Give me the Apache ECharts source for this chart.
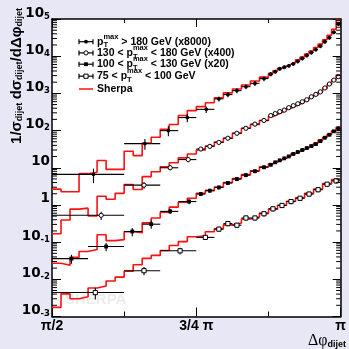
<!DOCTYPE html>
<html>
<head>
<meta charset="utf-8">
<script src="https://cdn.jsdelivr.net/npm/echarts/dist/echarts.min.js"></script>
<style>
html,body{margin:0;padding:0;background:#e7e7f5;}
#c{width:349px;height:349px;}
</style>
</head>
<body>
<div id="c"></div>
<script>
// ---------- DATA (x positions / bin edges in units of pi/64) ----------
const xTickLabels = ['π/2', '3/4 π', 'π'];
const yTickLabels = ['{b|10}{s|-3}', '{b|10}{s|-2}', '{b|10}{s|-1}', '{b|1}', '{b|10}', '{b|10}{s|2}', '{b|10}{s|3}', '{b|10}{s|4}', '{b|10}{s|5}'];

// Sherpa histogram bin edges
const edgesFine = [32,33,34,35,36,37,38,39,40,41,42,43,44,45,46,47,48,49,50,51,52,53,54,55,56,56.5,57,57.5,58,58.5,59,59.5,60,60.5,61,61.5,62,62.5,63,63.5,64];
const edgesD = [32,33,34,35,36,37,38,39,40,41,42,43,44,45,46,47,48,49,50,51,52,53,54,55,56,57,58,59,60,61,62,63,64];

// Sherpa values (already scaled as plotted)
const sherpaA = [2.66,2.27,2.27,6.93,7.60,15.6,9.02,9.02,27.7,21.2,45.9,66.2,108,146,254,344,439,560,760,1030,1316,1679,2144,2735,3492,4068,4737,5352,6046,6830,7958,9553,11470,13775,17050,21110,27780,36560,52700,94100];
const sherpaB = [0.168,0.394,0.772,0.820,0.503,1.705,1.42,2.05,3.55,2.61,5.78,7.84,10.6,13.6,18.4,23.5,30.0,38.3,48.9,62.3,84.6,115,146,187,238.5,269.5,304.3,343.9,400.6,452.4,511.3,577.6,672.9,783.4,912.6,1096,1357,1731,2279,3091];
const sherpaC = [0.02695,0.02385,0.0389,0.0560,0.0633,0.158,0.1096,0.1165,0.1897,0.1786,0.3286,0.4457,0.6427,0.872,1.183,1.51,2.048,2.46,3.043,4.005,5.113,6.525,8.328,10.63,12.76,14.42,16.29,18.40,20.79,24.22,27.36,30.91,34.91,39.45,45.95,55.17,66.25,79.57,98.49,121.9];
const sherpaD = [0.001763,0.004068,0.002998,0.003387,0.005865,0.006626,0.008988,0.01147,0.01654,0.02459,0.03655,0.04389,0.05954,0.08077,0.1031,0.1398,0.1487,0.1897,0.2279,0.2907,0.3286,0.4194,0.4737,0.6045,0.7716,0.985,1.257,1.556,2.048,2.695,3.77,4.81];

// Data: pT > 180 GeV (x8000)
const aX  = [36.6,42.3,44.9,47.0,49.1,50.5,51.5,52.5,53.5,54.5,55.5,56.25,56.75,57.25,57.75,58.25,58.75,59.25,59.75,60.25,60.75,61.25,61.75,62.25,62.75,63.25,63.75];
const aLo = [32,40,44,46,48,50,51,52,53,54,55,56,56.5,57,57.5,58,58.5,59,59.5,60,60.5,61,61.5,62,62.5,63,63.5];
const aHi = [40,44,46,48,50,51,52,53,54,55,56,56.5,57,57.5,58,58.5,59,59.5,60,60.5,61,61.5,62,62.5,63,63.5,64];
const aVal = [6.65,44.6,99.7,224,372,715,929,1186,1515,1862,2497,3286,3826,4596,5035,5517,6233,7261,8718,10470,12570,15100,18690,24590,31390,43890,73730];
const aErr = [0.42,0.32,0.3,0.25,0.2,0.15,0.15,0.15,0.15,0.15,0.15,0.12,0.12,0.12,0.12,0.12,0.12,0.12,0.12,0.12,0.12,0.12,0.12,0.12,0.12,0.12,0.12];

// Data: 130 < pT < 180 GeV (x400)
const bX  = [37.45,42.2,45.1,47.1,48.5,49.5,50.5,51.5,52.5,53.5,54.5,55.5,56.25,56.75,57.25,57.75,58.25,58.75,59.25,59.75,60.25,60.75,61.25,61.75,62.25,62.75,63.25,63.75];
const bLo = [32,40,44,46,48,49,50,51,52,53,54,55,56,56.5,57,57.5,58,58.5,59,59.5,60,60.5,61,61.5,62,62.5,63,63.5];
const bHi = [40,44,46,48,49,50,51,52,53,54,55,56,56.5,57,57.5,58,58.5,59,59.5,60,60.5,61,61.5,62,62.5,63,63.5,64];
const bVal = [0.526,3.40,10.0,16.6,31.9,37.6,48.0,62.3,84.6,115,149,187,253.5,286.4,323.6,354.5,413,466.6,527.2,595.6,672.9,807.7,940.9,1096,1399,1785,2279,2820];
const bErr = [0.25,0.2,0.15,0.15,0.12,0.12,0.12,0.12,0.12,0.12,0.12,0.12,0.1,0.1,0.1,0.1,0.1,0.1,0.1,0.1,0.1,0.1,0.1,0.1,0.1,0.1,0.1,0.1];

// Data: 100 < pT < 130 GeV (x20)
const cX  = [34.16,38.0,40.9,43.0,45.1,47.2,48.5,49.5,50.5,51.5,52.5,53.5,54.5,55.5,56.25,56.75,57.25,57.75,58.25,58.75,59.25,59.75,60.25,60.75,61.25,61.75,62.25,62.75,63.25,63.75];
const cLo = [32,36,40,42,44,46,48,49,50,51,52,53,54,55,56,56.5,57,57.5,58,58.5,59,59.5,60,60.5,61,61.5,62,62.5,63,63.5];
const cHi = [36,40,42,44,46,48,49,50,51,52,53,54,55,56,56.5,57,57.5,58,58.5,59,59.5,60,60.5,61,61.5,62,62.5,63,63.5,64];
const cVal = [0.0359,0.076,0.1932,0.3034,0.671,1.234,1.962,2.414,2.953,3.886,4.959,6.329,8.077,10.31,12.01,13.99,15.80,17.85,20.17,23.49,26.53,29.98,33.87,38.27,43.23,51.90,64.27,77.17,95.52,114.7];
const cErr = [0.27,0.25,0.25,0.25,0.15,0.15,0.12,0.12,0.12,0.12,0.12,0.12,0.12,0.12,0.1,0.1,0.1,0.1,0.1,0.1,0.1,0.1,0.1,0.1,0.1,0.1,0.1,0.1,0.1,0.1];

// Data: 75 < pT < 100 GeV
const dX  = [36.8,42.2,46.2,49.0,50.5,51.5,52.5,53.5,54.5,55.5,56.5,57.5,58.5,59.5,60.5,61.5,62.5,63.5];
const dLo = [32,40,44,48,50,51,52,53,54,55,56,57,58,59,60,61,62,63];
const dHi = [40,44,48,50,51,52,53,54,55,56,57,58,59,60,61,62,63,64];
const dVal = [0.0044,0.01705,0.05845,0.134,0.2237,0.3148,0.2855,0.4457,0.4457,0.5793,0.786,0.967,1.234,1.51,1.962,2.567,3.61,4.44];
const dErr = [0.35,0.25,0.2,0.15,0.15,0.15,0.15,0.15,0.15,0.15,0.15,0.15,0.15,0.15,0.15,0.15,0.15,0.15];

// legend text pieces
const legendRows = [
  {pre: '',       post: ' > 180 GeV (x8000)', mk: 'fc'},
  {pre: '130 < ', post: ' < 180 GeV (x400)',  mk: 'oc'},
  {pre: '100 < ', post: ' < 130 GeV (x20)',   mk: 'fs'},
  {pre: '75 < ',  post: ' < 100 GeV',         mk: 'os'}
];
const legendSherpa = 'Sherpa';

// y minor tick multipliers / decades
const yMinorMult = [2,3,4,5,6,7,8,9];
const yDecades = [-3,-2,-1,0,1,2,3,4];

// ---------- BUILD ----------
const PI64 = Math.PI / 64;
const RED = '#ff1010';

function histData(edges, vals) {
  const d = vals.map((v, i) => [edges[i] * PI64, v]);
  d.push([edges[edges.length - 1] * PI64, vals[vals.length - 1]]);
  return d;
}
function pointData(x, lo, hi, v, e) {
  return v.map((val, i) => [x[i] * PI64, val, lo[i] * PI64, hi[i] * PI64, val * (1 - e[i]), val * (1 + e[i])]);
}
function marker(kind, x, y) {
  if (kind === 'fc') return {type: 'circle', shape: {cx: x, cy: y, r: 1.9}, style: {fill: '#000'}};
  if (kind === 'oc') return {type: 'circle', shape: {cx: x, cy: y, r: 2.1}, style: {fill: '#fff', stroke: '#000', lineWidth: 1}};
  if (kind === 'fs') return {type: 'rect', shape: {x: x - 1.9, y: y - 1.9, width: 3.8, height: 3.8}, style: {fill: '#000'}};
  return {type: 'rect', shape: {x: x - 2.1, y: y - 2.1, width: 4.2, height: 4.2}, style: {fill: '#fff', stroke: '#000', lineWidth: 1}};
}
function lineSeries(name, edges, vals) {
  return {name: name, type: 'line', step: 'end', data: histData(edges, vals), symbol: 'none',
    lineStyle: {color: RED, width: 1.6}, z: 2, silent: true, animation: false};
}
function pointSeries(name, x, lo, hi, v, e, mk) {
  return {
    name: name, type: 'custom', z: 3, silent: true, animation: false, clip: false,
    encode: {x: 0, y: 1},
    data: pointData(x, lo, hi, v, e),
    renderItem: function (params, api) {
      const p = api.coord([api.value(0), api.value(1)]);
      const pl = api.coord([api.value(2), api.value(1)]);
      const ph = api.coord([api.value(3), api.value(1)]);
      const e1 = api.coord([api.value(0), api.value(4)]);
      const e2 = api.coord([api.value(0), api.value(5)]);
      const st = {stroke: '#000', lineWidth: 1.1};
      return {type: 'group', children: [
        {type: 'line', shape: {x1: pl[0], y1: p[1], x2: ph[0], y2: p[1]}, style: st},
        {type: 'line', shape: {x1: p[0], y1: e1[1], x2: p[0], y2: e2[1]}, style: st},
        marker(mk, p[0], p[1])
      ]};
    }
  };
}

const yMinor = [];
yDecades.forEach(d => yMinorMult.forEach(m => yMinor.push([Math.PI / 2, m * Math.pow(10, d)])));

// ---------- legend graphic ----------
const ctx = document.createElement('canvas').getContext('2d');
const LF = 10.5, SF = 7.5;
function tw(t, s) { ctx.font = 'bold ' + s + 'px "Liberation Sans"'; return ctx.measureText(t).width; }
function txt(t, x, y, s, extra) {
  return Object.assign({type: 'text', x: x, y: y, z: 10, silent: true,
    style: {text: t, fill: '#000', fontFamily: 'Liberation Sans', fontWeight: 'bold', fontSize: s,
      align: 'left', verticalAlign: 'middle'}}, extra || {});
}
const rowY = [41.7, 52.9, 64.2, 76.2];
const sherpaY = 89;
const graphics = [];
legendRows.forEach((r, i) => {
  const y = rowY[i];
  const ls = {stroke: '#000', lineWidth: 1.2};
  graphics.push({type: 'line', z: 10, shape: {x1: 79, y1: y, x2: 93, y2: y}, style: ls});
  graphics.push({type: 'line', z: 10, shape: {x1: 79, y1: y - 2.5, x2: 79, y2: y + 2.5}, style: ls});
  graphics.push({type: 'line', z: 10, shape: {x1: 93, y1: y - 2.5, x2: 93, y2: y + 2.5}, style: ls});
  graphics.push(Object.assign(marker(r.mk, 86, y), {z: 11}));
  let x = 97;
  if (r.pre) { graphics.push(txt(r.pre, x, y, LF)); x += tw(r.pre, LF); }
  graphics.push(txt('p', x, y, LF)); x += tw('p', LF);
  graphics.push(txt('max', x, y - 4.8, SF));
  graphics.push(txt('T', x, y + 3.6, SF));
  x += tw('max', SF);
  graphics.push(txt(r.post, x, y, LF));
});
graphics.push({type: 'line', z: 10, shape: {x1: 79, y1: sherpaY, x2: 93, y2: sherpaY}, style: {stroke: RED, lineWidth: 1.5}});
graphics.push(txt(legendSherpa, 97, sherpaY, LF));

// watermark
graphics.push({type: 'text', x: 65, y: 300, z: 1, silent: true,
  style: {text: 'SHERPA', fill: '#ececec', fontFamily: 'Liberation Sans', fontWeight: 'bold', fontSize: 15,
    align: 'left', verticalAlign: 'middle'}});

// y axis title
graphics.push({type: 'text', x: 17, y: 76, rotation: Math.PI / 2, z: 10, silent: true,
  style: {text: '{n|1/σ}{s|dijet} {n|dσ}{s|dijet}{n|/dΔφ}{s|dijet}', fill: '#000', align: 'center', verticalAlign: 'middle',
    rich: {
      n: {fontFamily: 'Liberation Sans', fontWeight: 'bold', fontSize: 15, lineHeight: 15, padding: [0, 0, 5, 0], verticalAlign: 'top', fill: '#000', color: '#000'},
      s: {fontFamily: 'Liberation Sans', fontWeight: 'bold', fontSize: 9, lineHeight: 9, verticalAlign: 'bottom', fill: '#000', color: '#000'}
    }}});

// x axis title
graphics.push({type: 'text', x: 346, y: 341, z: 10, silent: true,
  style: {text: '{g|Δφ}{s|dijet}', fill: '#000', align: 'right', verticalAlign: 'middle',
    rich: {
      g: {fontFamily: 'Liberation Serif', fontSize: 16, lineHeight: 16, padding: [0, 0, 4, 0], verticalAlign: 'top', fill: '#000', color: '#000'},
      s: {fontFamily: 'Liberation Sans', fontWeight: 'bold', fontSize: 9, lineHeight: 9, verticalAlign: 'bottom', fill: '#000', color: '#000'}
    }}});

// ---------- axes ----------
const axisLineStyle = {color: '#000', width: 1.5};
const yRich = {
  b: {fontFamily: 'DejaVu Sans', fontWeight: 'bold', fontSize: 13.5, lineHeight: 14, padding: [6, 0, 6, 0], verticalAlign: 'bottom', color: '#000'},
  s: {fontFamily: 'DejaVu Sans', fontWeight: 'bold', fontSize: 8.5, lineHeight: 9, verticalAlign: 'top', color: '#000'}
};
function yAx(pos, showLabel, tickLen) {
  return {
    type: 'log', logBase: 10, min: 0.001, max: 100000, interval: 1, position: pos,
    axisLine: {show: true, onZero: false, lineStyle: axisLineStyle},
    axisTick: {show: true, inside: true, length: tickLen, lineStyle: {color: '#000', width: 1}},
    minorTick: {show: false}, splitLine: {show: false},
    axisLabel: {show: showLabel, margin: 2, formatter: v => yTickLabels[Math.round(Math.log10(v)) + 3], rich: yRich}
  };
}
function xAx(pos, showLabel, tickLen, minorLen) {
  return {
    type: 'value', min: Math.PI / 2, max: Math.PI, interval: Math.PI / 4, position: pos,
    axisLine: {show: true, onZero: false, lineStyle: axisLineStyle},
    axisTick: {show: true, inside: true, length: tickLen, lineStyle: {color: '#000', width: 1}},
    minorTick: {show: true, splitNumber: 2, length: minorLen, lineStyle: {color: '#000', width: 1}},
    splitLine: {show: false},
    axisLabel: {show: showLabel, margin: 3, showMinLabel: true, showMaxLabel: true,
      formatter: v => xTickLabels[Math.round((v - Math.PI / 2) / (Math.PI / 4))],
      fontFamily: 'Liberation Sans', fontWeight: 'bold', fontSize: 14, color: '#000'}
  };
}

const chart = echarts.init(document.getElementById('c'), null, {renderer: 'canvas'});
chart.setOption({
  animation: false,
  backgroundColor: '#e7e7f5',
  grid: {left: 52, top: 14, right: 5, bottom: 32.5, show: true, backgroundColor: '#ffffff', borderWidth: 0},
  xAxis: [xAx('bottom', true, 9, 5), xAx('top', false, 8, 4)],
  yAxis: [yAx('left', true, 9), yAx('right', false, 8)],
  graphic: graphics,
  series: [
    lineSeries('Sherpa A', edgesFine, sherpaA),
    lineSeries('Sherpa B', edgesFine, sherpaB),
    lineSeries('Sherpa C', edgesFine, sherpaC),
    lineSeries('Sherpa D', edgesD, sherpaD),
    pointSeries('pT>180 (x8000)', aX, aLo, aHi, aVal, aErr, 'fc'),
    pointSeries('130-180 (x400)', bX, bLo, bHi, bVal, bErr, 'oc'),
    pointSeries('100-130 (x20)', cX, cLo, cHi, cVal, cErr, 'fs'),
    pointSeries('75-100', dX, dLo, dHi, dVal, dErr, 'os'),
    {
      type: 'custom', silent: true, animation: false, z: 4, clip: false,
      encode: {x: 0, y: 1}, data: yMinor,
      renderItem: function (params, api) {
        const v = api.value(1);
        const l = api.coord([Math.PI / 2, v]);
        const r = api.coord([Math.PI, v]);
        const st = {stroke: '#000', lineWidth: 1};
        return {type: 'group', children: [
          {type: 'line', shape: {x1: l[0], y1: l[1], x2: l[0] + 5, y2: l[1]}, style: st},
          {type: 'line', shape: {x1: r[0] - 4.5, y1: r[1], x2: r[0], y2: r[1]}, style: st}
        ]};
      }
    }
  ]
});
</script>
</body>
</html>
